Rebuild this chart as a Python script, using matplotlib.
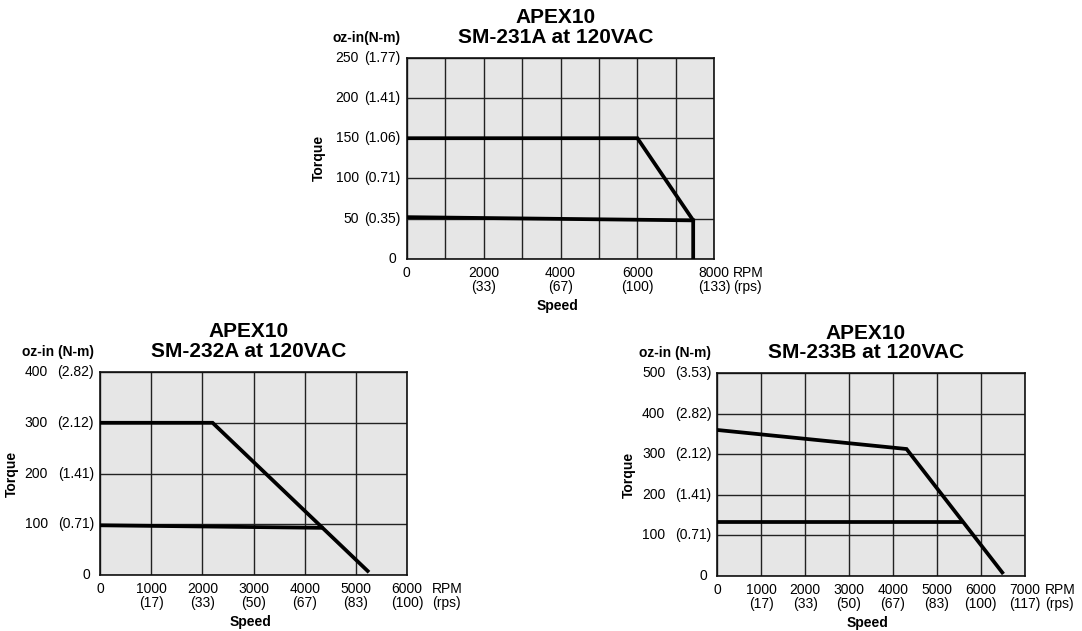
import matplotlib
matplotlib.use("Agg")
import matplotlib.pyplot as plt
from matplotlib.transforms import offset_copy, blended_transform_factory

plt.rcParams['font.family'] = ['Liberation Sans', 'DejaVu Sans']

# ---------------- data ----------------
titles = ["APEX10\nSM-231A at 120VAC", "APEX10\nSM-232A at 120VAC", "APEX10\nSM-233B at 120VAC"]
unit_labels = ["oz-in(N-m)", "oz-in (N-m)", "oz-in (N-m)"]

# chart 1: SM-231A
c1_x_ticks = [0, 2000, 4000, 6000, 8000]
c1_x_rps = ["", "(33)", "(67)", "(100)", "(133)"]
c1_y_ticks = [0, 50, 100, 150, 200, 250]
c1_y_nm = ["", "(0.35)", "(0.71)", "(1.06)", "(1.41)", "(1.77)"]
c1_peak_rpm = [0, 6000, 7450, 7450]
c1_peak_torque = [150, 150, 48, 0]
c1_cont_rpm = [0, 7450]
c1_cont_torque = [52, 48]

# chart 2: SM-232A
c2_x_ticks = [0, 1000, 2000, 3000, 4000, 5000, 6000]
c2_x_rps = ["", "(17)", "(33)", "(50)", "(67)", "(83)", "(100)"]
c2_y_ticks = [0, 100, 200, 300, 400]
c2_y_nm = ["", "(0.71)", "(1.41)", "(2.12)", "(2.82)"]
c2_peak_rpm = [0, 2200, 5230]
c2_peak_torque = [300, 300, 8]
c2_cont_rpm = [0, 4330]
c2_cont_torque = [98, 93]

# chart 3: SM-233B
c3_x_ticks = [0, 1000, 2000, 3000, 4000, 5000, 6000, 7000]
c3_x_rps = ["", "(17)", "(33)", "(50)", "(67)", "(83)", "(100)", "(117)"]
c3_y_ticks = [0, 100, 200, 300, 400, 500]
c3_y_nm = ["", "(0.71)", "(1.41)", "(2.12)", "(2.82)", "(3.53)"]
c3_peak_rpm = [0, 4310, 6490]
c3_peak_torque = [360, 313, 8]
c3_cont_rpm = [0, 5570]
c3_cont_torque = [133, 133]

charts = [
    dict(title=titles[0], unit=unit_labels[0], xt=c1_x_ticks, xr=c1_x_rps, xgrid=1000,
         yt=c1_y_ticks, yn=c1_y_nm, pr=c1_peak_rpm, pt=c1_peak_torque,
         cr=c1_cont_rpm, ct=c1_cont_torque,
         rect=[0.3759, 0.5895, 0.2843, 0.3191], numoff=48, rpmoff=19),
    dict(title=titles[1], unit=unit_labels[1], xt=c2_x_ticks, xr=c2_x_rps, xgrid=1000,
         yt=c2_y_ticks, yn=c2_y_nm, pr=c2_peak_rpm, pt=c2_peak_torque,
         cr=c2_cont_rpm, ct=c2_cont_torque,
         rect=[0.0924, 0.0887, 0.2838, 0.3217], numoff=52, rpmoff=25),
    dict(title=titles[2], unit=unit_labels[2], xt=c3_x_ticks, xr=c3_x_rps, xgrid=1000,
         yt=c3_y_ticks, yn=c3_y_nm, pr=c3_peak_rpm, pt=c3_peak_torque,
         cr=c3_cont_rpm, ct=c3_cont_torque,
         rect=[0.6629, 0.0876, 0.2841, 0.3208], numoff=52, rpmoff=20),
]

DPI = 100
fig = plt.figure(figsize=(10.82, 6.31), dpi=DPI)
FS = 10

def px(ax, tr, dx, dy):
    return offset_copy(tr, fig=fig, x=dx * 72 / DPI, y=dy * 72 / DPI, units='points')

for c in charts:
    ax = fig.add_axes(c['rect'])
    ax.set_facecolor('#e6e6e6')
    xmax = c['xt'][-1]
    ymax = c['yt'][-1]
    ax.set_xlim(0, xmax)
    ax.set_ylim(0, ymax)
    import numpy as np
    ax.set_xticks(np.arange(0, xmax + 1, c['xgrid']))
    ax.set_yticks(c['yt'])
    ax.set_xticklabels([])
    ax.set_yticklabels([])
    ax.tick_params(length=0)
    ax.grid(True, color='#222222', linewidth=1.0)
    ax.set_axisbelow(True)
    for s in ax.spines.values():
        s.set_color('#111111')
        s.set_linewidth(1.2)

    ax.plot(c['pr'], c['pt'], color='black', linewidth=2.7, solid_joinstyle='miter', zorder=3)
    ax.plot(c['cr'], c['ct'], color='black', linewidth=2.7, solid_joinstyle='miter', zorder=3)

    # y tick labels (oz-in and N-m)
    ytr = blended_transform_factory(ax.transAxes, ax.transData)
    for v, nm in zip(c['yt'], c['yn']):
        if nm == "":
            ax.text(0, v, str(v), transform=px(ax, ytr, -10, 0), ha='right', va='center',
                    fontsize=FS)
        else:
            ax.text(0, v, str(v), transform=px(ax, ytr, -c['numoff'], 0), ha='right',
                    va='center', fontsize=FS)
            ax.text(0, v, nm, transform=px(ax, ytr, -6, 0), ha='right', va='center',
                    fontsize=FS)

    # x tick labels (RPM and rps)
    xtr = blended_transform_factory(ax.transData, ax.transAxes)
    for v, r in zip(c['xt'], c['xr']):
        ax.text(v, 0, str(v), transform=px(ax, xtr, 0, -14), ha='center', va='center',
                fontsize=FS)
        if r:
            ax.text(v, 0, r, transform=px(ax, xtr, 0, -28), ha='center', va='center',
                    fontsize=FS)
    ax.text(1, 0, "RPM", transform=px(ax, ax.transAxes, c['rpmoff'], -14), ha='left',
            va='center', fontsize=FS)
    ax.text(1, 0, "(rps)", transform=px(ax, ax.transAxes, c['rpmoff'], -28), ha='left',
            va='center', fontsize=FS)

    # axis titles
    ax.text(0.5, 0, "Speed", transform=px(ax, ax.transAxes, -3, -47), ha='center',
            va='center', fontsize=FS, fontweight='bold')
    ax.text(0, 0.5, "Torque", transform=px(ax, ax.transAxes, -88, 0), ha='center',
            va='center', rotation=90, fontsize=FS, fontweight='bold')
    ax.text(0, 1, c['unit'], transform=px(ax, ax.transAxes, -6, 20), ha='right',
            va='center', fontsize=FS, fontweight='bold')

    # title
    ax.text(0.5, 1, c['title'], transform=px(ax, ax.transAxes, -5, 11), ha='center',
            va='bottom', fontsize=15, fontweight='bold', linespacing=1.05)

fig.savefig("out.png", dpi=DPI, facecolor='white')
